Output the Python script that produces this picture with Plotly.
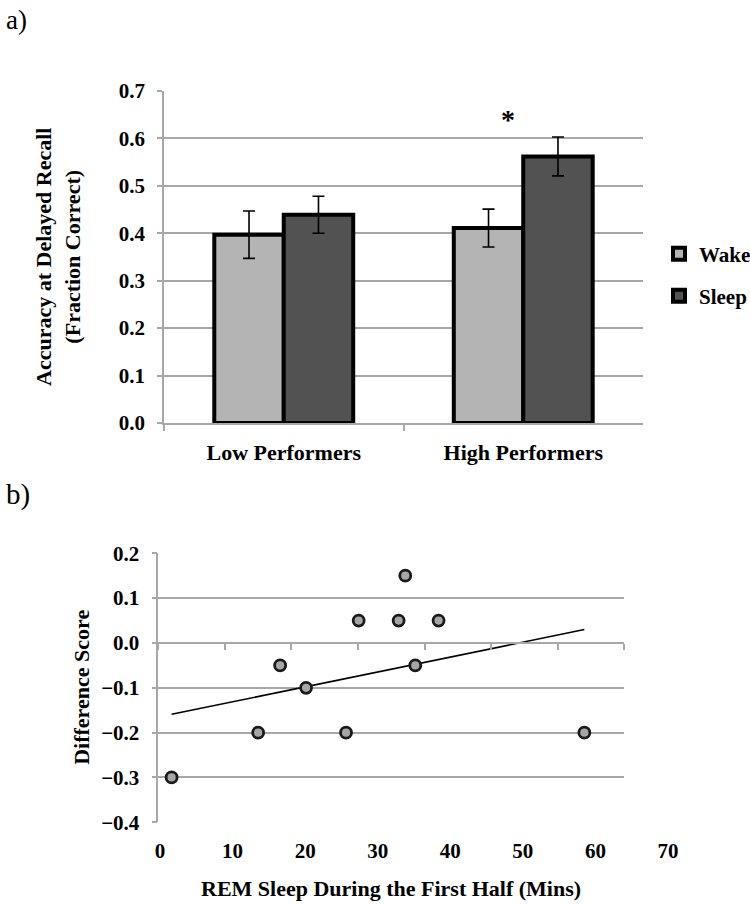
import numpy as np
import plotly.graph_objects as go

# ---------------- data ----------------
categories = ["Low Performers", "High Performers"]
wake_vals = [0.397, 0.411]
wake_err = [0.05, 0.04]
sleep_vals = [0.439, 0.562]
sleep_err = [0.039, 0.041]

rem_mins = [2, 15, 18.3, 22.2, 28.2, 30.1, 36.1, 37.1, 38.6, 42.1, 64]
diff_score = [-0.3, -0.2, -0.05, -0.1, -0.2, 0.05, 0.05, 0.15, -0.05, 0.05, -0.2]

top_y_ticks = [0.0, 0.1, 0.2, 0.3, 0.4, 0.5, 0.6, 0.7]
bot_y_range = [-0.4, 0.2]
bot_x_range = [0, 70]

# ---------------- layout helpers ----------------
W, H = 750, 904
FONT = "Liberation Serif, Times New Roman, serif"
GRID = "#a8a8a8"


def fx(p):
    return p / W


def fy(p):
    return 1 - p / H


top_dom_x = [fx(164), fx(643)]
top_dom_y = [fy(423), fy(91)]
bot_dom_x = [fx(158.3), fx(624.3)]
bot_dom_y = [fy(822.3), fy(553.3)]
zero_pos = bot_dom_y[0] + (0 - bot_y_range[0]) / (bot_y_range[1] - bot_y_range[0]) * (bot_dom_y[1] - bot_dom_y[0])

fig = go.Figure()

# ---------------- top: bar chart ----------------
fig.add_trace(go.Bar(
    x=categories, y=wake_vals, name="Wake",
    marker=dict(color="#b4b4b4", line=dict(color="black", width=4)),
    error_y=dict(type="data", array=wake_err, color="black", thickness=1.6, width=6),
    xaxis="x", yaxis="y", legend="legend",
))
fig.add_trace(go.Bar(
    x=categories, y=sleep_vals, name="Sleep",
    marker=dict(color="#525252", line=dict(color="black", width=4)),
    error_y=dict(type="data", array=sleep_err, color="black", thickness=1.6, width=6),
    xaxis="x", yaxis="y", legend="legend2",
))

# ---------------- bottom: scatter ----------------
coef = np.polyfit(rem_mins, diff_score, 1)
trend_x = [min(rem_mins), max(rem_mins)]
trend_y = [float(v) for v in np.polyval(coef, trend_x)]
fig.add_trace(go.Scatter(
    x=trend_x, y=trend_y, mode="lines", line=dict(color="black", width=1.6),
    xaxis="x2", yaxis="y2", showlegend=False, hoverinfo="skip",
))
fig.add_trace(go.Scatter(
    x=rem_mins, y=diff_score, mode="markers",
    marker=dict(size=11, color="#a6a6a6", line=dict(color="#1a1a1a", width=2.8)),
    xaxis="x2", yaxis="y2", showlegend=False,
))
# helper traces so the extra axes get drawn
fig.add_trace(go.Scatter(x=[0], y=[0], mode="markers", marker=dict(opacity=0),
                         xaxis="x3", yaxis="y2", showlegend=False, hoverinfo="skip"))
fig.add_trace(go.Scatter(x=[0], y=[0], mode="markers", marker=dict(opacity=0),
                         xaxis="x4", yaxis="y4", showlegend=False, hoverinfo="skip"))

tickfont = dict(family=FONT, size=21, color="black", weight="bold")

fig.update_layout(
    width=W, height=H, autosize=False,
    margin=dict(l=0, r=0, t=0, b=0, autoexpand=False),
    paper_bgcolor="white", plot_bgcolor="rgba(0,0,0,0)",
    font=dict(family=FONT, color="black"),
    barmode="group", bargap=0.42, bargroupgap=0,
    xaxis=dict(
        domain=top_dom_x, anchor="y", type="category",
        showline=True, linecolor=GRID, linewidth=1.5,
        ticks="outside", tickson="boundaries", ticklen=6, tickcolor=GRID, tickwidth=1.5,
        tickfont=dict(family=FONT, size=22, color="black", weight="bold"),
        ticklabelstandoff=9, showgrid=False,
    ),
    yaxis=dict(
        domain=top_dom_y, anchor="x", range=[0, 0.7], tickvals=top_y_ticks, tickformat=".1f",
        showline=True, linecolor=GRID, linewidth=1.5,
        showgrid=True, gridcolor=GRID, gridwidth=1.5, zeroline=False,
        ticks="outside", ticklen=5, tickcolor=GRID, tickwidth=1.5,
        tickfont=tickfont, ticklabelstandoff=8,
    ),
    xaxis2=dict(
        domain=bot_dom_x, anchor="y2", range=bot_x_range, dtick=10,
        showline=False, showgrid=False, zeroline=False, ticks="", showticklabels=False,
    ),
    xaxis3=dict(
        overlaying="x2", anchor="free", position=zero_pos, range=bot_x_range, dtick=10,
        showline=True, linecolor=GRID, linewidth=1.5, showgrid=False, zeroline=False,
        ticks="outside", ticklen=6, tickcolor=GRID, tickwidth=1.5, showticklabels=False,
    ),
    yaxis2=dict(
        domain=bot_dom_y, anchor="x2", range=bot_y_range, dtick=0.1, tickformat=".1f",
        showline=True, linecolor=GRID, linewidth=1.5,
        showgrid=True, gridcolor=GRID, gridwidth=1.5, zeroline=False,
        ticks="outside", ticklen=5, tickcolor=GRID, tickwidth=1.5,
        tickfont=tickfont, ticklabelstandoff=8,
    ),
    xaxis4=dict(
        domain=[fx(160), fx(668)], anchor="y4", range=bot_x_range, dtick=10,
        showline=False, showgrid=False, zeroline=False, ticks="",
        tickfont=tickfont, ticklabelstandoff=14,
    ),
    yaxis4=dict(domain=bot_dom_y, anchor="x4", range=bot_y_range, visible=False, showgrid=False),
    legend=dict(
        x=fx(659), y=fy(254), xanchor="left", yanchor="middle", bgcolor="rgba(0,0,0,0)",
        font=dict(family=FONT, size=21, color="black", weight="bold"),
    ),
    legend2=dict(
        x=fx(659), y=fy(296), xanchor="left", yanchor="middle", bgcolor="rgba(0,0,0,0)",
        font=dict(family=FONT, size=21, color="black", weight="bold"),
    ),
    showlegend=True,
)

ann_font = dict(family=FONT, size=22, color="black", weight="bold")
fig.add_annotation(
    xref="paper", yref="paper", x=fx(58), y=(top_dom_y[0] + top_dom_y[1]) / 2,
    text="Accuracy at Delayed Recall<br>(Fraction Correct)", textangle=-90,
    showarrow=False, font=ann_font, xanchor="center", yanchor="middle",
)
fig.add_annotation(
    xref="paper", yref="paper", x=fx(82), y=(bot_dom_y[0] + bot_dom_y[1]) / 2,
    text="Difference Score", textangle=-90,
    showarrow=False, font=ann_font, xanchor="center", yanchor="middle",
)
fig.add_annotation(
    xref="paper", yref="paper", x=(bot_dom_x[0] + bot_dom_x[1]) / 2, y=fy(888),
    text="REM Sleep During the First Half (Mins)",
    showarrow=False, font=ann_font, xanchor="center", yanchor="middle",
)
fig.add_annotation(
    xref="x", yref="y", x=1, y=0.64, xshift=-15, text="*",
    showarrow=False, font=dict(family=FONT, size=28, color="black", weight="bold"),
    xanchor="center", yanchor="middle",
)
fig.add_annotation(
    xref="paper", yref="paper", x=fx(4), y=fy(20), text="a)",
    showarrow=False, font=dict(family=FONT, size=27, color="black"), xanchor="left", yanchor="middle",
)
fig.add_annotation(
    xref="paper", yref="paper", x=fx(4), y=fy(494), text="b)",
    showarrow=False, font=dict(family=FONT, size=29, color="black"), xanchor="left", yanchor="middle",
)

fig.write_html(
    "out.html",
    config={"displayModeBar": False},
    post_script="document.body.style.margin='0';document.body.style.overflow='hidden';",
)
